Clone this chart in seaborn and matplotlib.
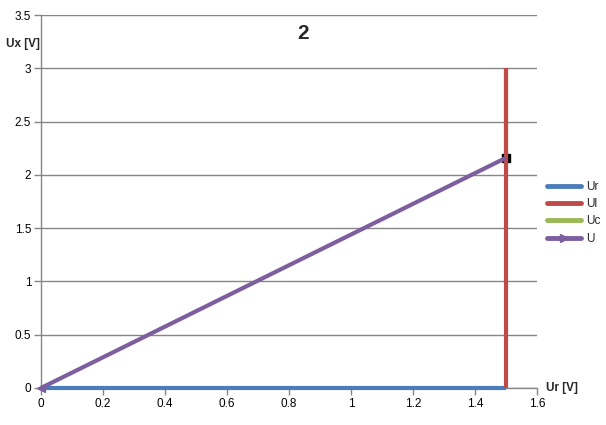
import numpy as np
import pandas as pd
import seaborn as sns
import matplotlib.pyplot as plt
from matplotlib.lines import Line2D

# phasor end points (x = Ur axis, y = Ux axis)
ur_x = [0.0, 1.5]
ur_y = [0.0, 0.0]
ul_x = [1.5, 1.5]
ul_y = [0.0, 3.0]
uc_x = [1.5, 1.5]
uc_y = [3.0, 2.16]
u_x = [0.0, 1.5]
u_y = [0.0, 2.16]

series = [
    ('Ur', ur_x, ur_y, '#4a7ebb'),
    ('Ul', ul_x, ul_y, '#be4b48'),
    ('Uc', uc_x, uc_y, '#98b954'),
    ('U', u_x, u_y, '#7d5fa0'),
]
zorders = {'Ur': 3, 'Ul': 4, 'Uc': 2, 'U': 5}

sns.set_style('white')
plt.rcParams['font.family'] = ['Liberation Sans', 'DejaVu Sans']

fig = plt.figure(figsize=(6.06, 4.25), dpi=100)
ax = fig.add_axes([0.0677, 0.0871, 0.8185, 0.8776])

for name, xs, ys, col in series:
    df = pd.DataFrame({'x': xs, 'y': ys})
    sns.lineplot(data=df, x='x', y='y', sort=False, estimator=None, color=col,
                 linewidth=3.0, ax=ax, zorder=zorders[name],
                 solid_capstyle='butt', clip_on=False)

# black end marker of U, under the Ul line
ax.plot([u_x[1]], [u_y[1]], marker='s', color='black', markersize=6,
        zorder=3.5, linestyle='none', clip_on=False)
# arrow tip at origin
ax.plot([u_x[0]], [u_y[0]], marker='<', color='#7d5fa0', markersize=6,
        zorder=5, linestyle='none', clip_on=False)

ax.set_xlim(0, 1.6)
ax.set_ylim(0, 3.5)
ax.set_xticks(np.arange(0, 1.61, 0.2))
ax.set_yticks(np.arange(0, 3.51, 0.5))
ax.set_xticklabels(['0', '0.2', '0.4', '0.6', '0.8', '1', '1.2', '1.4', '1.6'])
ax.set_yticklabels(['0', '0.5', '1', '1.5', '2', '2.5', '3', '3.5'])
ax.yaxis.grid(True, color='#868686', linewidth=1)
ax.xaxis.grid(False)
ax.set_axisbelow(True)
for s in ['top', 'right']:
    ax.spines[s].set_visible(False)
for s in ['left', 'bottom']:
    ax.spines[s].set_color('#868686')
    ax.spines[s].set_linewidth(1)
ax.tick_params(axis='both', which='both', length=5, width=1, color='#868686',
               labelsize=8.5, labelcolor='black', direction='out',
               left=True, bottom=True, pad=2)
ax.set_xlabel('')
ax.set_ylabel('')

fig.text(0.5, 0.922, '2', ha='center', va='center', fontsize=15, fontweight='bold')
fig.text(0.038, 0.897, 'Ux [V]', ha='center', va='center', fontsize=8.5, fontweight='bold')
fig.text(0.927, 0.087, 'Ur [V]', ha='center', va='center', fontsize=8.5, fontweight='bold')

handles = []
for name, xs, ys, col in series:
    if name == 'U':
        handles.append(Line2D([], [], color=col, linewidth=3.5, marker='>',
                              markersize=6))
    else:
        handles.append(Line2D([], [], color=col, linewidth=3.5))
ax.legend(handles, [s[0] for s in series], loc='center left',
          bbox_to_anchor=(1.01, 0.47), frameon=False, fontsize=8.5,
          handlelength=2.9, labelspacing=0.45, handletextpad=0.4,
          borderaxespad=0, numpoints=1)

fig.savefig('out.png', dpi=100)
